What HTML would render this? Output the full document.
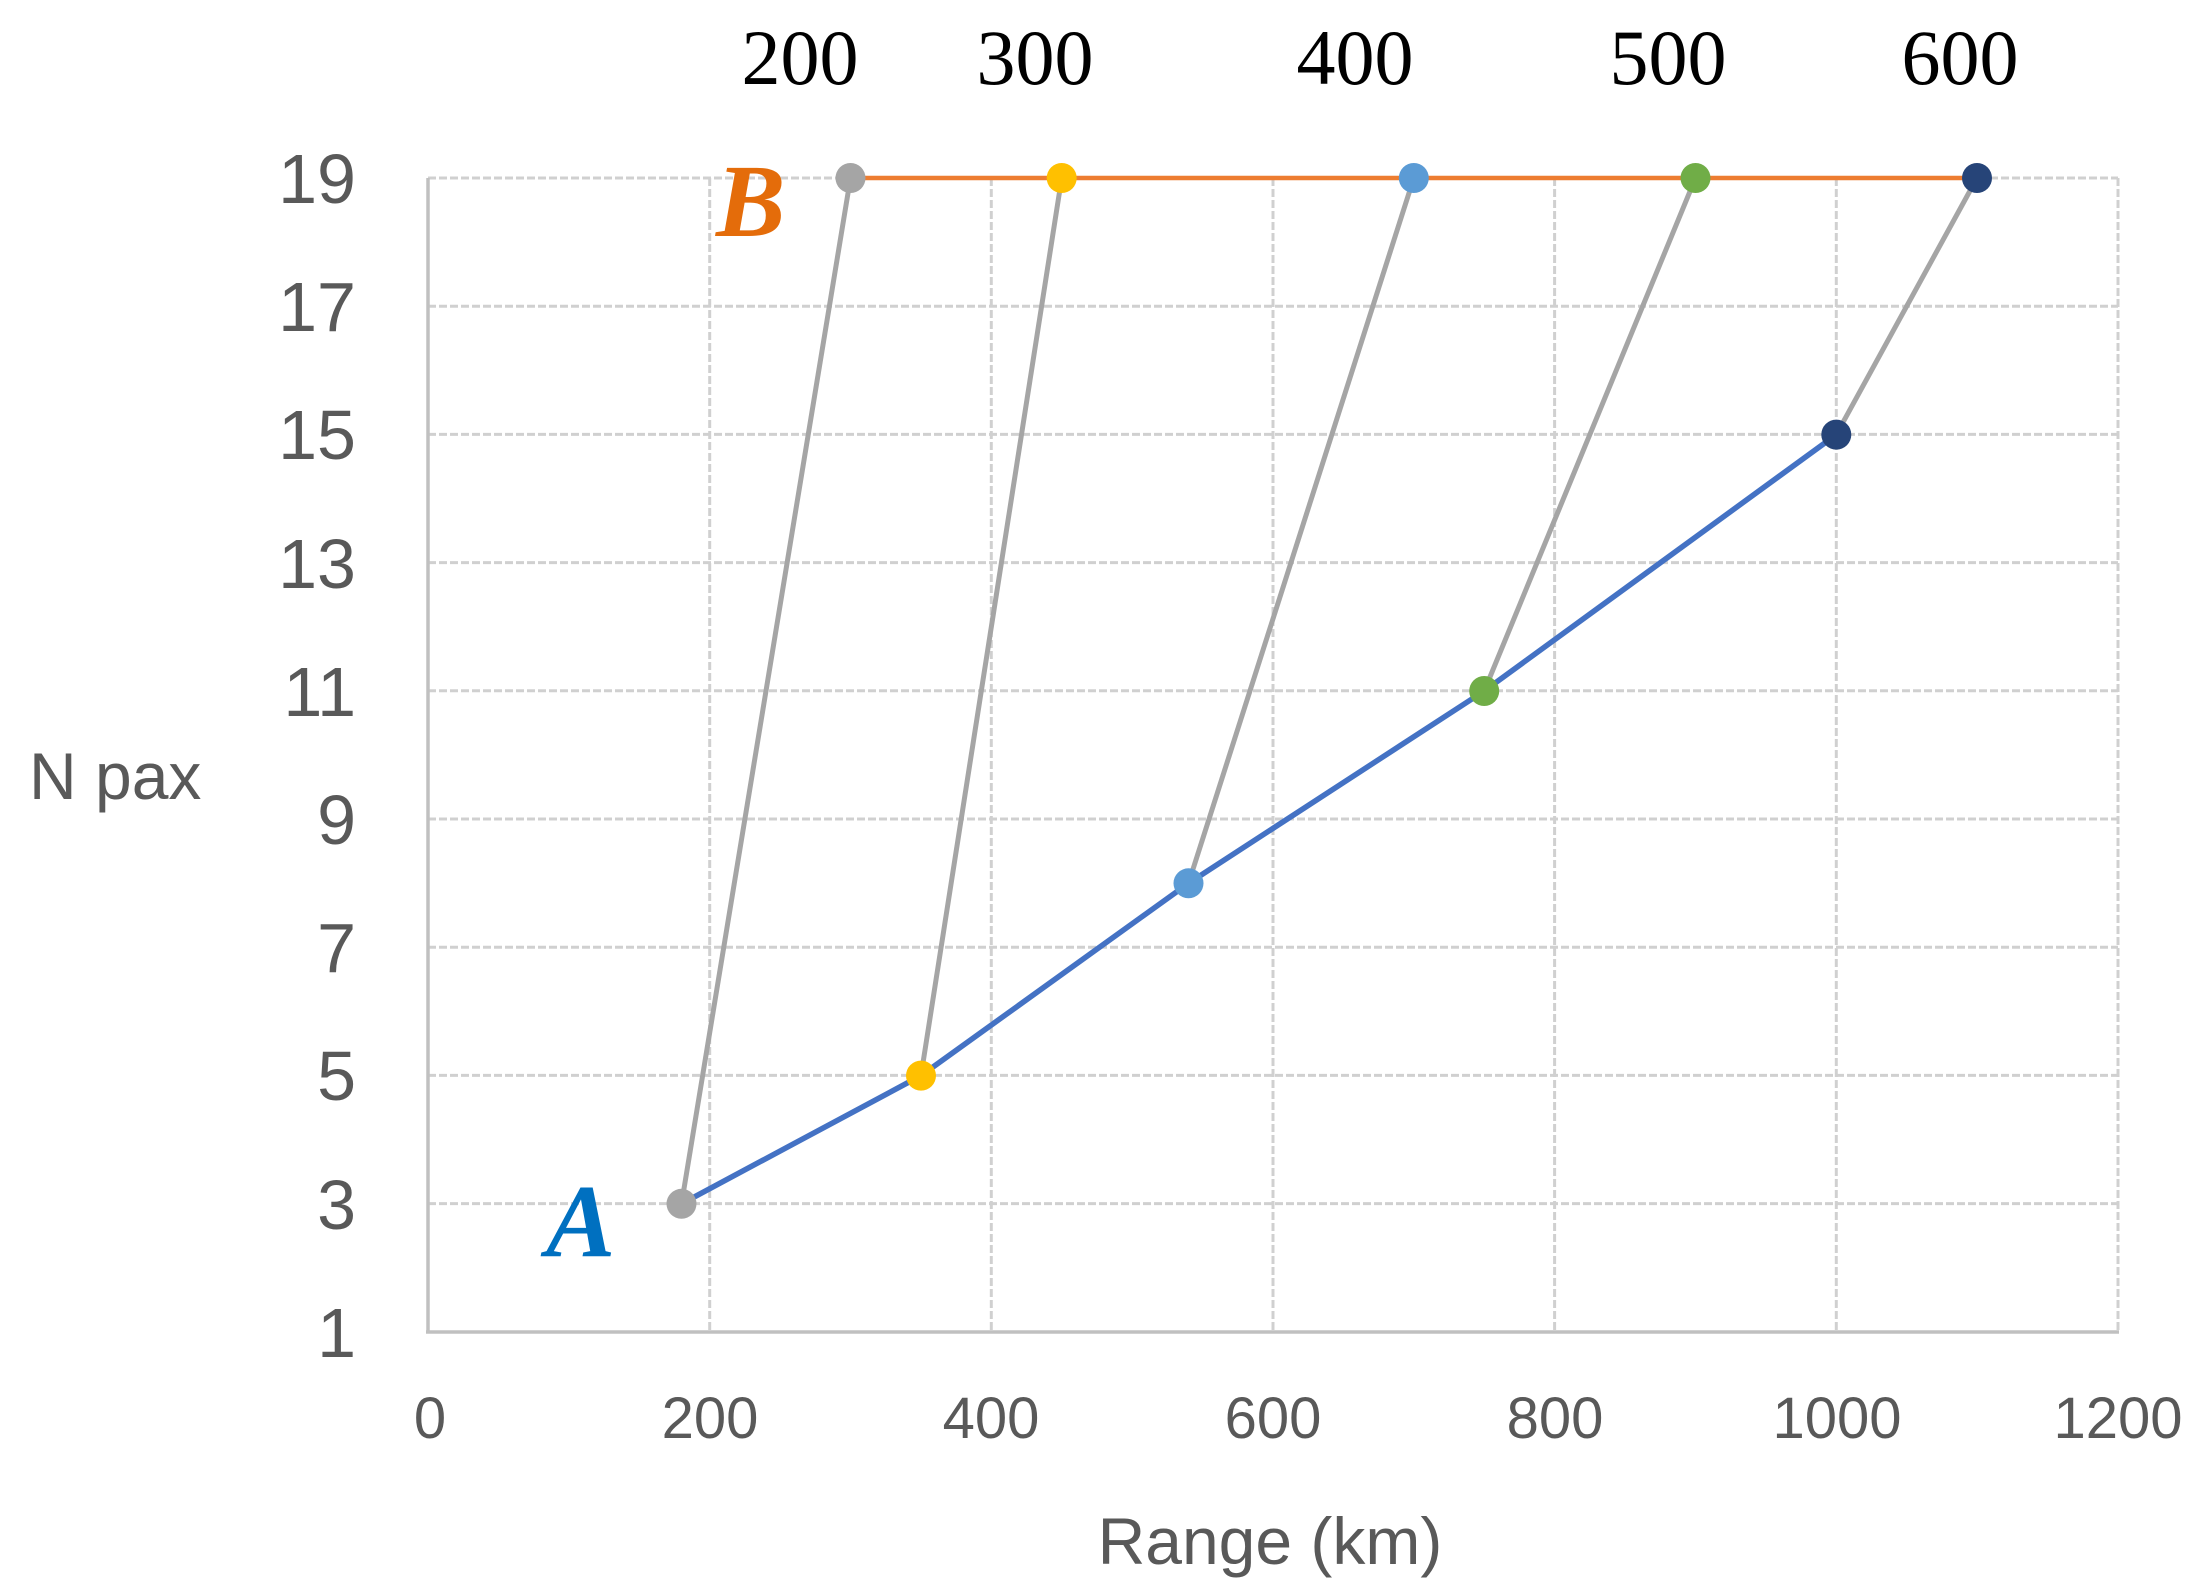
<!DOCTYPE html>
<html><head><meta charset="utf-8"><style>
html,body{margin:0;padding:0;background:#fff;}
svg{display:block;}
</style></head><body>
<svg width="2201" height="1594" viewBox="0 0 2201 1594" xmlns="http://www.w3.org/2000/svg">
<g stroke="#d0d0d0" stroke-width="3" stroke-dasharray="8,3" fill="none">
<line x1="428" y1="178" x2="2118" y2="178"/>
<line x1="428" y1="306.2" x2="2118" y2="306.2"/>
<line x1="428" y1="434.4" x2="2118" y2="434.4"/>
<line x1="428" y1="562.6" x2="2118" y2="562.6"/>
<line x1="428" y1="690.8" x2="2118" y2="690.8"/>
<line x1="428" y1="819" x2="2118" y2="819"/>
<line x1="428" y1="947.2" x2="2118" y2="947.2"/>
<line x1="428" y1="1075.4" x2="2118" y2="1075.4"/>
<line x1="428" y1="1203.6" x2="2118" y2="1203.6"/>
<line x1="709.7" y1="178" x2="709.7" y2="1332"/>
<line x1="991.3" y1="178" x2="991.3" y2="1332"/>
<line x1="1273" y1="178" x2="1273" y2="1332"/>
<line x1="1554.6" y1="178" x2="1554.6" y2="1332"/>
<line x1="1836.3" y1="178" x2="1836.3" y2="1332"/>
<line x1="2118" y1="178" x2="2118" y2="1332"/>
</g>
<g stroke="#c0c0c0" stroke-width="3.5" fill="none">
<line x1="428" y1="178" x2="428" y2="1333"/>
<line x1="426" y1="1332" x2="2119" y2="1332"/>
</g>
<g font-family="Liberation Sans, sans-serif" font-size="70" fill="#595959" text-anchor="end">
<text x="356" y="203">19</text>
<text x="356" y="331">17</text>
<text x="356" y="459">15</text>
<text x="356" y="588">13</text>
<text x="356" y="716">11</text>
<text x="356" y="844">9</text>
<text x="356" y="972">7</text>
<text x="356" y="1100">5</text>
<text x="356" y="1229">3</text>
<text x="356" y="1357">1</text>
</g>
<g font-family="Liberation Sans, sans-serif" font-size="58" fill="#595959" text-anchor="middle">
<text x="430" y="1438">0</text>
<text x="710" y="1438">200</text>
<text x="991" y="1438">400</text>
<text x="1273" y="1438">600</text>
<text x="1555" y="1438">800</text>
<text x="1837" y="1438">1000</text>
<text x="2118" y="1438">1200</text>
</g>
<text x="29" y="799" font-family="Liberation Sans, sans-serif" font-size="66" fill="#595959">N pax</text>
<text x="1270" y="1564" font-family="Liberation Sans, sans-serif" font-size="66" fill="#595959" text-anchor="middle">Range (km)</text>
<g font-family="Liberation Serif, serif" font-size="78" fill="#000" text-anchor="middle">
<text x="800" y="84">200</text>
<text x="1035" y="84">300</text>
<text x="1355" y="84">400</text>
<text x="1668" y="84">500</text>
<text x="1960" y="84">600</text>
</g>
<text x="716" y="236" font-family="Liberation Serif, serif" font-style="italic" font-weight="bold" font-size="104" fill="#e46c0a">B</text>
<text x="546" y="1256" font-family="Liberation Serif, serif" font-style="italic" font-weight="bold" font-size="104" fill="#0070c0">A</text>
<line x1="850.5" y1="178" x2="1977" y2="178" stroke="#ed7d31" stroke-width="4.5"/>
<g stroke="#a5a5a5" stroke-width="5" fill="none">
<line x1="681.5" y1="1203.8" x2="850.5" y2="178"/>
<line x1="921" y1="1075.6" x2="1061.7" y2="178"/>
<line x1="1188.5" y1="883.3" x2="1413.8" y2="178"/>
<line x1="1484.2" y1="691" x2="1695.5" y2="178"/>
<line x1="1836.3" y1="434.6" x2="1977" y2="178"/>
</g>
<polyline points="681.5,1203.8 921,1075.6 1188.5,883.3 1484.2,691 1836.3,434.6" stroke="#4472c4" stroke-width="5.5" fill="none"/>
<g>
<circle cx="681.5" cy="1203.8" r="15" fill="#a5a5a5"/>
<circle cx="850.5" cy="178" r="15" fill="#a5a5a5"/>
<circle cx="921" cy="1075.6" r="15" fill="#ffc000"/>
<circle cx="1061.7" cy="178" r="15" fill="#ffc000"/>
<circle cx="1188.5" cy="883.3" r="15" fill="#5b9bd5"/>
<circle cx="1413.8" cy="178" r="15" fill="#5b9bd5"/>
<circle cx="1484.2" cy="691" r="15" fill="#70ad47"/>
<circle cx="1695.5" cy="178" r="15" fill="#70ad47"/>
<circle cx="1836.3" cy="434.6" r="15" fill="#264478"/>
<circle cx="1977" cy="178" r="15" fill="#264478"/>
</g>
</svg>
</body></html>
